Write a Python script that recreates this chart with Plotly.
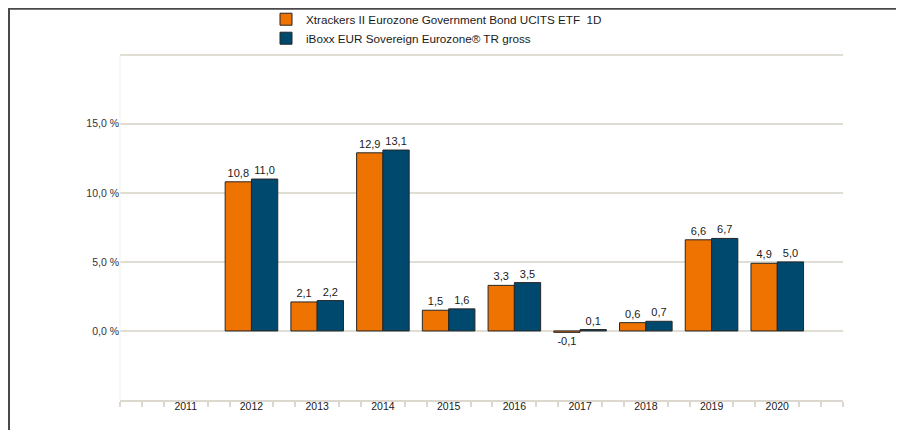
import plotly.graph_objects as go

years = [2011, 2012, 2013, 2014, 2015, 2016, 2017, 2018, 2019, 2020]
etf_values = [None, 10.8, 2.1, 12.9, 1.5, 3.3, -0.1, 0.6, 6.6, 4.9]
index_values = [None, 11.0, 2.2, 13.1, 1.6, 3.5, 0.1, 0.7, 6.7, 5.0]
series_names = ["Xtrackers II Eurozone Government Bond UCITS ETF  1D",
                "iBoxx EUR Sovereign Eurozone® TR gross"]
y_ticks = [0, 5, 10, 15, 20]
y_ticktext = ["0,0 %", "5,0 %", "10,0 %", "15,0 %", ""]

ORANGE = "#ee7300"
BLUE = "#00496e"
FONT = "Liberation Sans, Arial, sans-serif"

# page body has an 8px margin; figure sized to fit the 904x430 window
OFF = 8
W, H = 904 - OFF, 430 - OFF
Y_LO, Y_HI = -5, 20.2
SCALE = 345 / 25.0          # px per % in the reference
B = H - (400 - OFF)
T = (55 - OFF) - (Y_HI - 20) * SCALE
L = 120 - OFF
R = W - (843 - OFF)
pw, ph = W - L - R, H - T - B


def px2x(px):  # screen px -> paper
    return (px - OFF - L) / pw


def px2y(py):
    return (H - B - (py - OFF)) / ph


def fmt(v):
    return "" if v is None else f"{v:.1f}".replace(".", ",")


fig = go.Figure()
for name, vals, col in [(series_names[0], etf_values, ORANGE),
                        (series_names[1], index_values, BLUE)]:
    fig.add_trace(go.Bar(
        x=years, y=vals, name=name,
        marker=dict(color=col, line=dict(color="#262626", width=1)),
        text=[fmt(v) for v in vals], textposition="outside",
        textfont=dict(family=FONT, size=11, color="#1a1a1a"),
        cliponaxis=False,
    ))

minor_vals = [2010 + k / 3 for k in range(0, 34) if k % 3 != 0] + [2010, 2021]

fig.update_layout(
    width=W, height=H,
    margin=dict(l=L, r=R, t=T, b=B, autoexpand=False),
    paper_bgcolor="white", plot_bgcolor="white",
    barmode="group", bargap=0.2, bargroupgap=0,
    font=dict(family=FONT, size=11, color="#333333"),
    showlegend=True,
    legend=dict(
        x=px2x(266), y=px2y(5), xanchor="left", yanchor="top",
        orientation="v", font=dict(family=FONT, size=11.7, color="#1a1a1a"),
        bgcolor="rgba(0,0,0,0)", tracegroupgap=0,
    ),
    xaxis=dict(
        range=[2010, 2021], tickmode="array", tickvals=years,
        ticktext=[str(y) for y in years], ticks="", showgrid=False,
        showline=True, linecolor="#dcd8cf", linewidth=2,
        tickfont=dict(family=FONT, size=10.5, color="#1a1a1a"),
        ticklabelstandoff=-5,
        minor=dict(tickmode="array", tickvals=minor_vals, ticks="outside",
                   ticklen=5, tickcolor="#dcd8cf", tickwidth=2, showgrid=False),
        zeroline=False, fixedrange=True,
    ),
    yaxis=dict(
        range=[Y_LO, Y_HI], tickmode="array", tickvals=y_ticks, ticktext=y_ticktext,
        showgrid=True, gridcolor="#e0ddd5", gridwidth=1.5,
        zeroline=False, showline=False,
        ticks="", ticklabelstandoff=0,
        tickfont=dict(family=FONT, size=10.5, color="#333333"),
        fixedrange=True,
    ),
    shapes=[
        dict(type="line", xref="paper", yref="y",
             x0=0, x1=0, y0=Y_LO, y1=20,
             line=dict(color="#f0efeb", width=1)),
        dict(type="line", xref="paper", yref="paper",
             x0=px2x(7), x1=px2x(910), y0=px2y(9), y1=px2y(9),
             line=dict(color="#4a4a4a", width=2)),
        dict(type="line", xref="paper", yref="paper",
             x0=px2x(9), x1=px2x(9), y0=px2y(8), y1=px2y(440),
             line=dict(color="#4a4a4a", width=2)),
    ],
)

fig.write_html("out.html")
